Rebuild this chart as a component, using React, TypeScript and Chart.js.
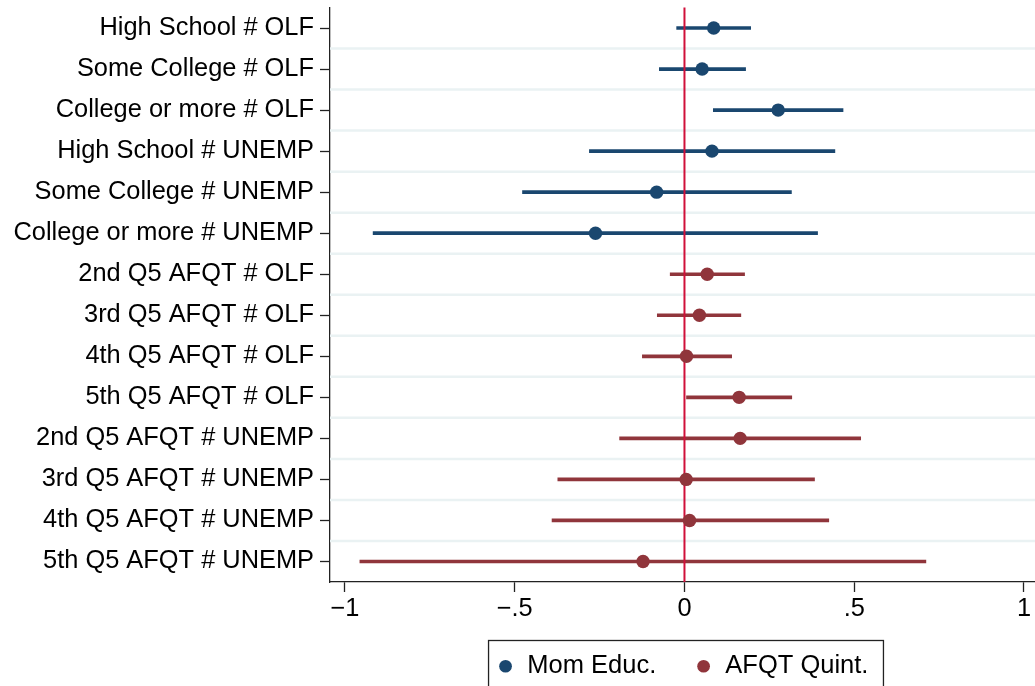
import React, { useEffect, useRef } from 'react';
import { Chart, registerables } from 'chart.js';

Chart.register(...registerables);

// ---------- data ----------
const momLabels = [
  'High School # OLF',
  'Some College # OLF',
  'College or more # OLF',
  'High School # UNEMP',
  'Some College # UNEMP',
  'College or more # UNEMP',
];
const momEst = [0.086, 0.052, 0.276, 0.081, -0.082, -0.262];
const momLo = [-0.023, -0.074, 0.085, -0.28, -0.477, -0.917];
const momHi = [0.195, 0.18, 0.467, 0.443, 0.315, 0.392];

const afqtLabels = [
  '2nd Q5 AFQT # OLF',
  '3rd Q5 AFQT # OLF',
  '4th Q5 AFQT # OLF',
  '5th Q5 AFQT # OLF',
  '2nd Q5 AFQT # UNEMP',
  '3rd Q5 AFQT # UNEMP',
  '4th Q5 AFQT # UNEMP',
  '5th Q5 AFQT # UNEMP',
];
const afqtEst = [0.067, 0.044, 0.006, 0.161, 0.164, 0.005, 0.015, -0.122];
const afqtLo = [-0.042, -0.08, -0.124, 0.006, -0.191, -0.373, -0.39, -0.956];
const afqtHi = [0.177, 0.166, 0.139, 0.316, 0.519, 0.383, 0.425, 0.711];

const seriesNames = ['Mom Educ.', 'AFQT Quint.'];
const xTickValues = [-1, -0.5, 0, 0.5, 1];
const xTickLabels = ['\u22121', '\u2212.5', '0', '.5', '1'];

// ---------- styles ----------
const X_MIN = -1.044;
const X_MAX = 1.0324;
const FONT = "'Liberation Sans', Arial, Helvetica, sans-serif";
const FONT_SIZE = 25.4;
const LEGEND_FONT_SIZE = 25.5;
const BLUE = '#1a476f';
const RED = '#90353b';
const ZERO_COLOR = '#d0103a';
const GRID_COLOR = '#eaf2f3';
const AXIS_COLOR = '#222222';
const LEGEND_PAD = 10;
const LEGEND_GAP = '    ';
const BOTTOM_SHIFT = 3;

const categories = [...momLabels, ...afqtLabels];
const nMom = momLabels.length;
const nAfqt = afqtLabels.length;
const padAfter = (arr: any[], n: number) => [...arr, ...Array(n).fill(null)];
const padBefore = (arr: any[], n: number) => [...Array(n).fill(null), ...arr];

const momRanges = momLo.map((lo, i) => [lo, momHi[i]]);
const afqtRanges = afqtLo.map((lo, i) => [lo, afqtHi[i]]);

const coefPlugin = {
  id: 'coefPlot',
  beforeDatasetsDraw(chart: any) {
    const { ctx, chartArea, scales } = chart;
    const y = scales.y;
    ctx.save();
    ctx.strokeStyle = GRID_COLOR;
    ctx.lineWidth = 2.5;
    const n = y.ticks.length;
    for (let i = 0; i < n - 1; i++) {
      const py = (y.getPixelForTick(i) + y.getPixelForTick(i + 1)) / 2;
      ctx.beginPath();
      ctx.moveTo(chartArea.left, py);
      ctx.lineTo(chartArea.right, py);
      ctx.stroke();
    }
    ctx.restore();
    chart._zeroDrawn = false;
  },
  beforeDatasetDraw(chart: any, args: any) {
    if (args.meta.type !== 'line' || chart._zeroDrawn) return;
    chart._zeroDrawn = true;
    const { ctx, chartArea, scales } = chart;
    const px = scales.x.getPixelForValue(0);
    ctx.save();
    ctx.strokeStyle = ZERO_COLOR;
    ctx.lineWidth = 2;
    ctx.beginPath();
    ctx.moveTo(px, chartArea.top);
    ctx.lineTo(px, chartArea.bottom);
    ctx.stroke();
    ctx.restore();
  },
  afterDraw(chart: any) {
    const lg = chart.legend;
    const hb = lg && lg.legendHitBoxes;
    if (!hb || !hb.length) return;
    const { ctx } = chart;
    const last = hb[hb.length - 1];
    const left = hb[0].left - 8;
    const right = last.left + last.width + 15;
    const top = lg.top - BOTTOM_SHIFT;
    ctx.save();
    ctx.strokeStyle = AXIS_COLOR;
    ctx.lineWidth = 1.3;
    ctx.strokeRect(left, top, right - left, chart.height + 20 - top);
    ctx.restore();
  },
};

export default function App() {
  const ref = useRef<HTMLCanvasElement>(null);

  useEffect(() => {
    if (!ref.current) return;
    const chart = new Chart(ref.current, {
      type: 'bar',
      data: {
        labels: categories,
        datasets: [
          {
            type: 'bar',
            label: seriesNames[0] + ' CI',
            data: padAfter(momRanges, nAfqt) as any,
            backgroundColor: BLUE,
            borderWidth: 0,
            barThickness: 3,
            grouped: false,
            order: 2,
          },
          {
            type: 'bar',
            label: seriesNames[1] + ' CI',
            data: padBefore(afqtRanges, nMom) as any,
            backgroundColor: RED,
            borderWidth: 0,
            barThickness: 3,
            grouped: false,
            order: 2,
          },
          {
            type: 'line',
            label: seriesNames[0],
            data: padAfter(momEst, nAfqt) as any,
            showLine: false,
            pointStyle: 'circle',
            pointRadius: 6.7,
            pointHoverRadius: 6.7,
            pointBackgroundColor: BLUE,
            pointBorderColor: BLUE,
            pointBorderWidth: 0,
            backgroundColor: BLUE,
            borderColor: BLUE,
            order: 1,
          },
          {
            type: 'line',
            label: seriesNames[1],
            data: padBefore(afqtEst, nMom) as any,
            showLine: false,
            pointStyle: 'circle',
            pointRadius: 6.7,
            pointHoverRadius: 6.7,
            pointBackgroundColor: RED,
            pointBorderColor: RED,
            pointBorderWidth: 0,
            backgroundColor: RED,
            borderColor: RED,
            order: 1,
          },
        ],
      },
      options: {
        indexAxis: 'y',
        animation: false,
        responsive: true,
        maintainAspectRatio: false,
        events: [],
        layout: {
          autoPadding: false,
          padding: { top: 7.5, left: 0, right: 0, bottom: -BOTTOM_SHIFT },
        },
        scales: {
          y: {
            type: 'category',
            offset: true,
            grid: {
              display: true,
              drawOnChartArea: false,
              drawTicks: true,
              tickLength: 10,
              tickColor: AXIS_COLOR,
              tickWidth: 1.3,
              offset: false,
            },
            border: { display: true, color: AXIS_COLOR, width: 1.3 },
            ticks: {
              font: { family: FONT, size: FONT_SIZE },
              color: '#000',
              padding: 6,
              autoSkip: false,
            },
            afterFit: (s: any) => {
              s.width = 330;
              s.paddingTop = 0;
              s.paddingBottom = 0;
            },
          },
          x: {
            type: 'linear',
            position: 'bottom',
            min: X_MIN,
            max: X_MAX,
            afterBuildTicks: (s: any) => {
              s.ticks = xTickValues.map((v) => ({ value: v }));
            },
            grid: {
              display: true,
              drawOnChartArea: false,
              drawTicks: true,
              tickLength: 10,
              tickColor: AXIS_COLOR,
              tickWidth: 1.3,
            },
            border: { display: true, color: AXIS_COLOR, width: 1.3 },
            ticks: {
              font: { family: FONT, size: FONT_SIZE },
              color: '#000',
              padding: 2,
              maxRotation: 0,
              autoSkip: false,
              includeBounds: false,
              callback: (v: any) => {
                const i = xTickValues.indexOf(Number(v));
                return i >= 0 ? xTickLabels[i] : '';
              },
            },
            afterFit: (s: any) => {
              s.height = 58.5 + BOTTOM_SHIFT;
              s.paddingLeft = 0;
              s.paddingRight = 0;
            },
          },
        },
        plugins: {
          tooltip: { enabled: false },
          legend: {
            display: true,
            position: 'bottom',
            fullSize: false,
            labels: {
              font: { family: FONT, size: LEGEND_FONT_SIZE },
              color: '#000',
              usePointStyle: true,
              pointStyle: 'circle',
              boxWidth: 18,
              boxHeight: 9,
              padding: LEGEND_PAD,
              generateLabels: (chart: any) => {
                const items = (Chart.defaults as any).plugins.legend.labels.generateLabels(chart);
                return items.map((it: any) =>
                  it.datasetIndex === 2 ? { ...it, text: it.text + LEGEND_GAP } : it
                );
              },
              filter: (item: any) => item.datasetIndex >= 2,
            },
          },
        },
      } as any,
      plugins: [coefPlugin as any],
    });
    return () => chart.destroy();
  }, []);

  return (
    <div
      style={{
        position: 'fixed',
        left: 0,
        top: 0,
        width: 1035,
        height: 686,
        background: '#fff',
      }}
    >
      <canvas ref={ref} />
    </div>
  );
}
